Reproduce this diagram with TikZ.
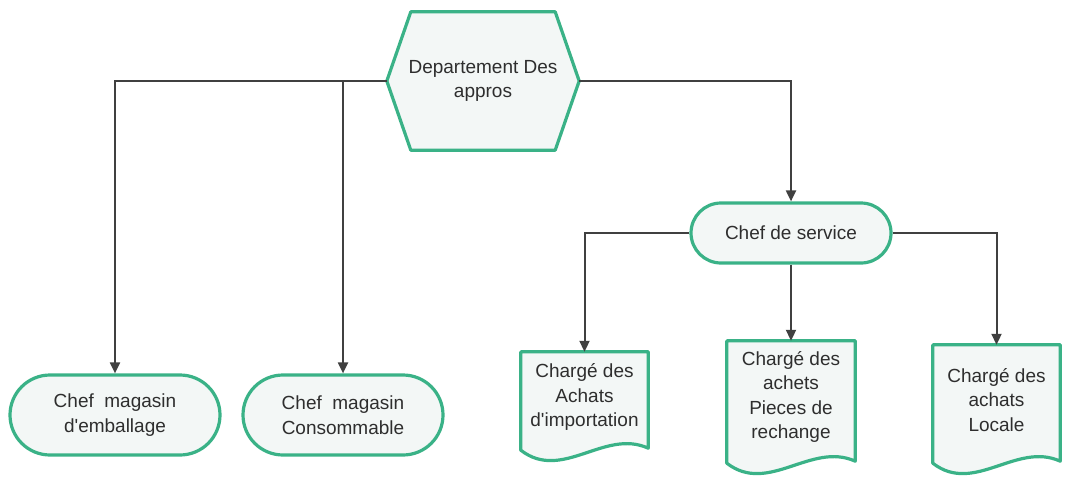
\documentclass[tikz,border=0pt]{standalone}
\usepackage{fontspec}
\setmainfont{Liberation Sans}
\usetikzlibrary{arrows.meta,shapes.misc,backgrounds}
\definecolor{edgegreen}{HTML}{3AB287}
\definecolor{boxfill}{HTML}{F3F7F6}
\definecolor{linkgray}{HTML}{404040}
\definecolor{txtgray}{HTML}{2E2E2E}
\newcommand{\apos}{\textquotesingle}
\begin{document}
\begin{tikzpicture}[x=1pt,y=-1pt,
  every node/.style={font=\fontsize{19}{24.5}\selectfont, text=txtgray, align=center},
  shapeline/.style={draw=edgegreen, line width=3.2pt, fill=boxfill, line join=round},
  terminal/.style={shapeline, rounded rectangle, inner sep=0pt},
  plainbox/.style={rectangle, inner sep=0pt, outer sep=1.2pt},
  link/.style={draw=linkgray, line width=2pt, -{Triangle[width=10pt,length=11pt]}}
]
\useasboundingbox (0,0) rectangle (1065,479);

% department (hexagon drawn behind)
\node[plainbox, minimum width=190pt, minimum height=136pt] (dept) at (483,81) {Departement Des\\appros};

% top-level terminals
\node[terminal, minimum width=210pt, minimum height=80pt] (t1) at (115,415) {Chef\ \ magasin\\d\apos emballage};
\node[terminal, minimum width=200pt, minimum height=80pt] (t2) at (343,415) {Chef\ \ magasin\\Consommable};

% service head
\node[terminal, minimum width=200pt, minimum height=60pt] (chef) at (791,233) {Chef de service};

% document-style boxes (outline drawn behind, wavy edge below the text box)
\node[plainbox, minimum width=125pt, minimum height=88pt] (d1) at (584.5,397) {Chargé des\\Achats\\d\apos importation};
\node[plainbox, minimum width=126pt, minimum height=110pt] (d2) at (791,397) {Chargé des\\achets\\Pieces de\\rechange};
\node[plainbox, minimum width=125pt, minimum height=108pt] (d3) at (996.5,400) {Chargé des\\achats\\Locale};

\begin{pgfonlayer}{background}
  \draw[shapeline] (dept.west) -- ([xshift=24pt]dept.north west) -- ([xshift=-24pt]dept.north east)
    -- (dept.east) -- ([xshift=-24pt]dept.south east) -- ([xshift=24pt]dept.south west) -- cycle;
  \foreach \d/\w/\o in {d1/125/8,d2/126/10,d3/125/8}{
    \draw[shapeline] (\d.north west) -- (\d.north east) -- ([yshift={-(\o-2)*1pt}]\d.south east)
      .. controls ([xshift=0.67*\w pt, yshift={-(\o-22)*1pt}]\d.south west)
      and ([xshift=0.33*\w pt, yshift={-(\o+32)*1pt}]\d.south west)
      .. ([yshift=-\o pt]\d.south west) -- cycle;
  }
\end{pgfonlayer}

% connectors
\draw[link] (dept.west) -| (t1.north);
\draw[link] (dept.west) -| (t2.north);
\draw[link] (dept.east) -| (chef.north);
\draw[link] (chef.west) -| (d1.north);
\draw[link] (chef.south) -- (d2.north);
\draw[link] (chef.east) -| (d3.north);
\end{tikzpicture}
\end{document}
